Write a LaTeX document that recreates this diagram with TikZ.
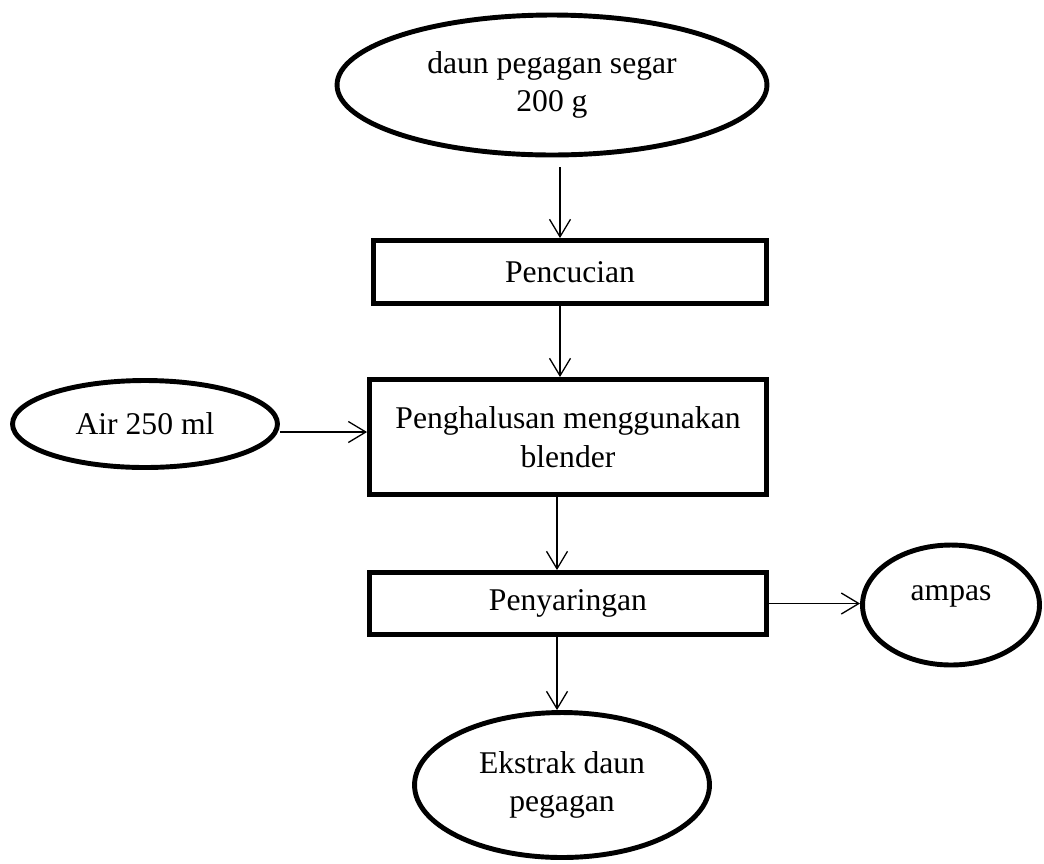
\documentclass[tikz,border=0pt]{standalone}
\usepackage{fontspec}
\setmainfont{Liberation Serif}
\usetikzlibrary{arrows.meta,shapes.geometric}
\begin{document}
\begin{tikzpicture}[x=0.02cm, y=-0.02cm,
  every node/.style={font=\fontsize{18}{22}\selectfont, align=center},
  oval/.style={draw, ellipse, line width=2.8pt, inner sep=0pt},
  proc/.style={draw, rectangle, line width=2.8pt, inner sep=0pt},
  arr/.style={-{Straight Barb[length=0.35cm, width=0.42cm]}, line width=0.75pt}]
  \useasboundingbox (0,0) rectangle (1044,863);
  % bahan masuk
  \node[oval, minimum width=8.6cm, minimum height=2.8cm] (daun) at (552,85) {daun pegagan segar\\200 g};
  \node[oval, minimum width=5.3cm, minimum height=1.74cm] (air) at (145,424) {Air 250 ml};
  % tahap proses
  \node[proc, minimum width=7.86cm, minimum height=1.26cm] (cuci) at (570,272) {Pencucian};
  \node[proc, minimum width=7.94cm, minimum height=2.3cm] (halus) at (568,437) {Penghalusan menggunakan\\blender};
  \node[proc, minimum width=7.94cm, minimum height=1.24cm] (saring) at (568,603.5) {Penyaringan};
  % hasil
  \node[oval, minimum width=3.54cm, minimum height=2.4cm] (ampas) at (951,605) {\raisebox{0.1cm}[0pt][0pt]{ampas}};
  \node[oval, minimum width=5.9cm, minimum height=2.9cm] (ekstrak) at (562,785) {Ekstrak daun\\pegagan};
  % panah
  \coordinate (kolA) at (560,0);
  \coordinate (kolB) at (557,0);
  \draw[arr, shorten <=0.2cm] (daun.south -| kolA) -- (cuci.north -| kolA);
  \draw[arr] (cuci.south -| kolA) -- (halus.north -| kolA);
  \draw[arr] ([yshift=-0.16cm]air.east) -- ([yshift=-0.16cm]air.east -| halus.west);
  \draw[arr] (halus.south -| kolB) -- (saring.north -| kolB);
  \draw[arr] (saring.east) -- (saring.east -| ampas.west);
  \draw[arr] (saring.south -| kolB) -- (ekstrak.north -| kolB);
\end{tikzpicture}
\end{document}
